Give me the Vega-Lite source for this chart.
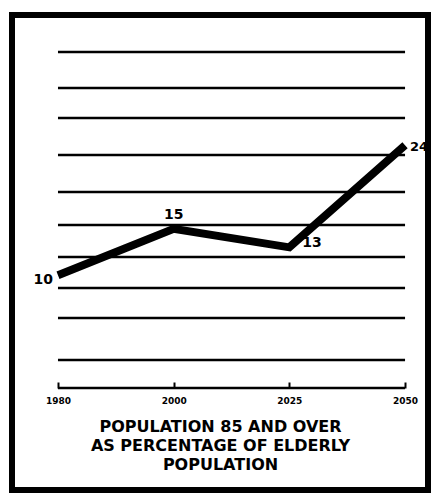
{
  "$schema": "https://vega.github.io/schema/vega-lite/v6.json",
  "width": 416,
  "height": 475,
  "autosize": {"type": "none"},
  "padding": {"left": 12, "top": 15, "right": 3, "bottom": 4},
  "background": "white",
  "config": {"view": {"stroke": "black", "strokeWidth": 6}},
  "datasets": {
    "series": [
      {"year": 1980, "pct": 10},
      {"year": 2000, "pct": 15},
      {"year": 2025, "pct": 13},
      {"year": 2050, "pct": 24}
    ],
    "grid": [
      {"level": -2.16},
      {"level": 0.86},
      {"level": 5.39},
      {"level": 8.62},
      {"level": 11.96},
      {"level": 15.41},
      {"level": 18.97},
      {"level": 22.95},
      {"level": 26.94},
      {"level": 30.17},
      {"level": 34.05}
    ]
  },
  "layer": [
    {
      "data": {"name": "grid"},
      "mark": {"type": "rule", "color": "black", "strokeWidth": 2.5},
      "encoding": {
        "x": {
          "datum": 1980,
          "type": "ordinal",
          "scale": {"type": "point", "domain": [1980, 2000, 2025, 2050], "padding": 0.298, "align": 0.667},
          "axis": {
            "title": ["POPULATION 85 AND OVER", "AS PERCENTAGE OF ELDERLY", "POPULATION"],
            "orient": "bottom", "offset": -102, "domain": false, "grid": false,
            "ticks": true, "tickSize": -6, "tickWidth": 2, "tickColor": "black",
            "labelFont": "DejaVu Sans", "labelFontWeight": "bold", "labelFontSize": 9,
            "labelColor": "black", "labelPadding": 14, "labelAngle": 0,
            "titleFont": "DejaVu Sans", "titleFontWeight": "bold", "titleFontSize": 16,
            "titleLineHeight": 19, "titleColor": "black", "titlePadding": 13
          }
        },
        "x2": {"datum": 2050},
        "y": {"field": "level", "type": "quantitative", "scale": {"domain": [-13.15, 38.04], "nice": false, "zero": false}, "axis": null}
      }
    },
    {
      "data": {"name": "series"},
      "mark": {"type": "line", "color": "black", "strokeWidth": 8},
      "encoding": {
        "x": {
          "field": "year",
          "type": "ordinal",
          "scale": {"type": "point", "domain": [1980, 2000, 2025, 2050], "padding": 0.298, "align": 0.667},
          "axis": {
            "title": ["POPULATION 85 AND OVER", "AS PERCENTAGE OF ELDERLY", "POPULATION"],
            "orient": "bottom", "offset": -102, "domain": false, "grid": false,
            "ticks": true, "tickSize": -6, "tickWidth": 2, "tickColor": "black",
            "labelFont": "DejaVu Sans", "labelFontWeight": "bold", "labelFontSize": 9,
            "labelColor": "black", "labelPadding": 14, "labelAngle": 0,
            "titleFont": "DejaVu Sans", "titleFontWeight": "bold", "titleFontSize": 16,
            "titleLineHeight": 19, "titleColor": "black", "titlePadding": 13
          }
        },
        "y": {"field": "pct", "type": "quantitative", "scale": {"domain": [-13.15, 38.04], "nice": false, "zero": false}, "axis": null}
      }
    },
    {
      "data": {"name": "series"},
      "transform": [{"filter": "datum.year == 1980"}],
      "mark": {"type": "text", "font": "DejaVu Sans", "fontWeight": "bold", "fontSize": 14, "color": "black", "align": "right", "baseline": "middle", "dx": -5, "dy": 5},
      "encoding": {
        "x": {"field": "year", "type": "ordinal"},
        "y": {"field": "pct", "type": "quantitative"},
        "text": {"field": "pct", "type": "quantitative"}
      }
    },
    {
      "data": {"name": "series"},
      "transform": [{"filter": "datum.year == 2000"}],
      "mark": {"type": "text", "font": "DejaVu Sans", "fontWeight": "bold", "fontSize": 14, "color": "black", "align": "center", "baseline": "bottom", "dy": -7},
      "encoding": {
        "x": {"field": "year", "type": "ordinal"},
        "y": {"field": "pct", "type": "quantitative"},
        "text": {"field": "pct", "type": "quantitative"}
      }
    },
    {
      "data": {"name": "series"},
      "transform": [{"filter": "datum.year == 2025"}],
      "mark": {"type": "text", "font": "DejaVu Sans", "fontWeight": "bold", "fontSize": 14, "color": "black", "align": "left", "baseline": "middle", "dx": 13, "dy": -4},
      "encoding": {
        "x": {"field": "year", "type": "ordinal"},
        "y": {"field": "pct", "type": "quantitative"},
        "text": {"field": "pct", "type": "quantitative"}
      }
    },
    {
      "data": {"name": "series"},
      "transform": [{"filter": "datum.year == 2050"}],
      "mark": {"type": "text", "font": "DejaVu Sans", "fontWeight": "bold", "fontSize": 13, "color": "black", "align": "left", "baseline": "middle", "dx": 5, "dy": 2},
      "encoding": {
        "x": {"field": "year", "type": "ordinal"},
        "y": {"field": "pct", "type": "quantitative"},
        "text": {"field": "pct", "type": "quantitative"}
      }
    }
  ]
}
